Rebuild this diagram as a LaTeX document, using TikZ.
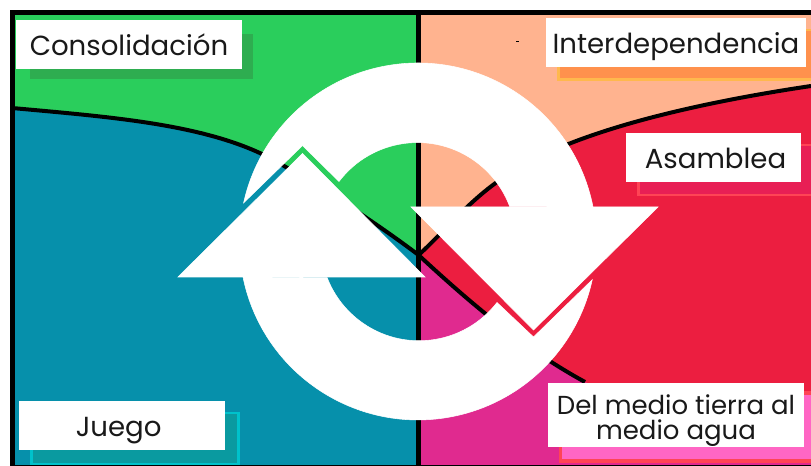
\documentclass[tikz,border=0pt]{standalone}
\usepackage{fontspec}
\setmainfont{Poppins}
\usetikzlibrary{positioning,calc}
\definecolor{zonegreen}{HTML}{2ACE5C}
\definecolor{zoneblue}{HTML}{0690AB}
\definecolor{zonepeach}{HTML}{FFB38F}
\definecolor{zonered}{HTML}{EC1E40}
\definecolor{zonepink}{HTML}{E02A8F}
\definecolor{shadowgreen}{HTML}{2EAD50}
\definecolor{shadoworange}{HTML}{FF914D}
\definecolor{edgeorange}{HTML}{FFB84D}
\definecolor{shadowred}{HTML}{E81F55}
\definecolor{edgered}{HTML}{FF4455}
\definecolor{shadowteal}{HTML}{0A9AA0}
\definecolor{edgeteal}{HTML}{00C2CB}
\definecolor{shadowpink}{HTML}{FF66C4}
\tikzset{
    labelbox/.style={fill=white,inner sep=0pt,align=center,text=black!90,font=\fontsize{20.7}{18.75}\selectfont},
    oneline/.style={minimum height=36.75pt,text height=17pt,text depth=0.5pt},
    border/.style={line width=3pt,black},
    ringpart/.style={fill=white,draw=white,line width=0.4pt}
}
\begin{document}
\begin{tikzpicture}[x=0.75pt,y=-0.75pt]
    \useasboundingbox (0,0) rectangle (811,466);
    \fill[white] (0,0) rectangle (811,466);

    \coordinate (M) at (418.5,255);

    % the four zones
    \fill[zonegreen] (15,15) rectangle (418.5,255);
    \fill[zonepeach] (418.5,15) rectangle (811,255);
    \fill[zonepink] (418.5,255) rectangle (811,466);
    \fill[zoneblue] (12,108) .. controls (110,117) and (205,124) .. (270,158) .. controls (315,183) and (375,222) .. (M) -- (418.5,466) -- (12,466) -- cycle;
    \fill[zonered] (M) .. controls (440,236) and (465,205) .. (497,182) .. controls (560,134) and (690,104) .. (811,86) -- (811,430) -- (660,410) -- (585,382) .. controls (530,352) and (480,312) .. (M);

    % zone borders
    \draw[border] (12,108) .. controls (110,117) and (205,124) .. (270,158) .. controls (315,183) and (375,222) .. (M);
    \draw[border] (M) .. controls (440,236) and (465,205) .. (497,182) .. controls (560,134) and (690,104) .. (811,86);
    \draw[border] (585,382) .. controls (530,352) and (480,312) .. (M);
    \draw[border,line width=3.4pt] (418.5,12)--(418.5,466);
    \draw[border,line width=3.75pt] (12.5,466)--(12.5,12.5)--(811,12.5);
    \draw[black,line width=1pt] (12,465.5)--(811,465.5);
    \fill[black] (516,41) rectangle (519,42.5);

    % label shadows
    \fill[shadowgreen] (30,34) rectangle (253,79);
    \filldraw[fill=shadoworange,draw=edgeorange,line width=2pt] (558.5,30) rectangle (815,79.5);
    \filldraw[fill=shadowred,draw=edgered,line width=2pt] (638.5,145) rectangle (815,195);
    \filldraw[fill=shadowteal,draw=edgeteal,line width=2pt] (31.5,413) rectangle (238.5,464);
    \filldraw[fill=shadowpink,draw=edgered,line width=2.5pt] (560.5,393) rectangle (815,461);

    % ring and arrow heads
    \path[ringpart] (593,207) arc (-11.15:-167.5:178.5) -- (302.5,145.5) -- (339,181.5) arc (-142.8:-20.5:98.5) -- cycle;
    \path[ringpart] (243,277) arc (168.5:12.4:178.5) -- (533.5,337) -- (497,302.5) arc (37.7:158.9:98.5) -- cycle;
    \path[ringpart] (178,277) -- (302.5,153.5) -- (425,277) -- cycle;
    \path[ringpart] (411,207) -- (533.5,330) -- (658,207) -- cycle;

    % labels
    \node[labelbox,oneline,minimum width=169.5pt] (consolidacion) at (129,44.5) {Consolidación};
    \node[labelbox,oneline,minimum width=195pt] (interdependencia) at (676,42.5) {Interdependencia};
    \node[labelbox,oneline,minimum width=131.25pt] (asamblea) at (713.5,157.5) {\hspace{3pt}Asamblea};
    \node[labelbox,oneline,minimum width=154.5pt] (juego) at (122,425.5) {Juego\hspace{5pt}};
    \node[labelbox,minimum width=192pt,minimum height=48pt,font=\fontsize{19.5}{18.75}\selectfont] (medio) at (676,415) {\rule{0pt}{24pt}Del medio tierra al\\medio agua};
\end{tikzpicture}
\end{document}
